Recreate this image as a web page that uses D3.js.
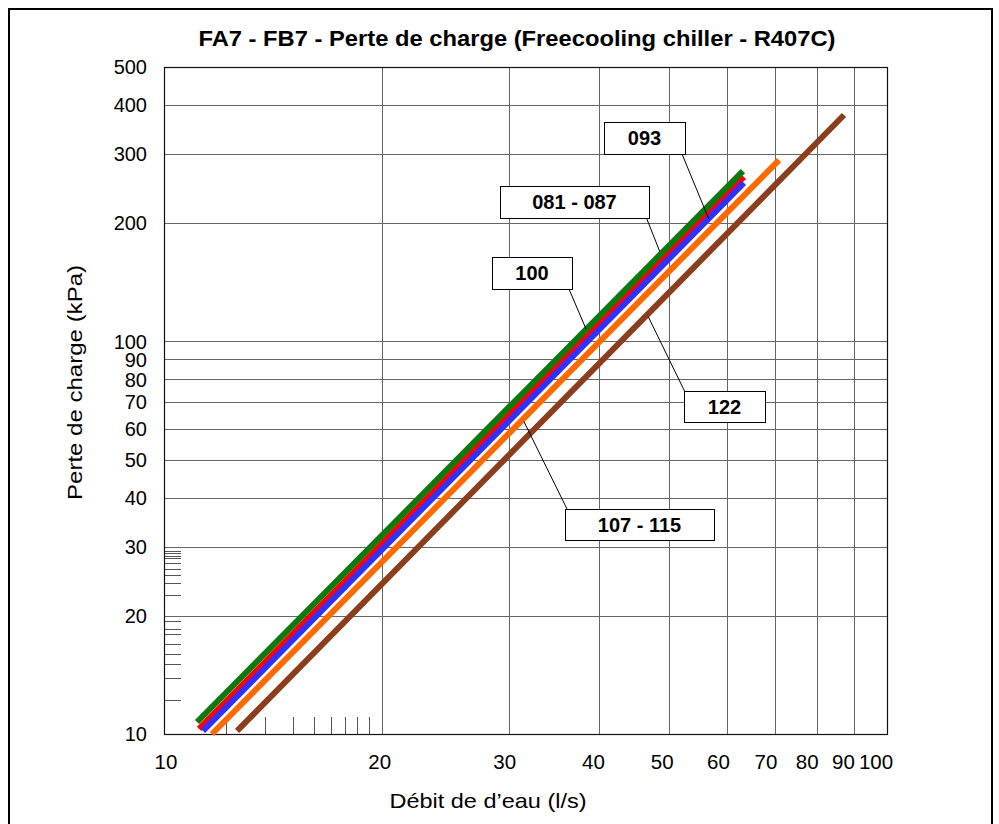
<!DOCTYPE html>
<html><head><meta charset="utf-8">
<script src="https://cdnjs.cloudflare.com/ajax/libs/d3/7.8.5/d3.min.js"></script>
<style>body{margin:0;background:#fff;} svg{display:block;font-family:Arial,"Liberation Sans",sans-serif;}</style>
</head><body><svg id="c" width="999" height="824"></svg>
<script>
// ---- data ----
const chartTitle = "FA7 - FB7 - Perte de charge (Freecooling chiller - R407C)";
const xTitle = "Débit de d’eau (l/s)";
const yTitle = "Perte de charge (kPa)";
const xTickValues = [10, 20, 30, 40, 50, 60, 70, 80, 90, 100];
const yTickValues = [10, 20, 30, 40, 50, 60, 70, 80, 90, 100, 200, 300, 400, 500];
const xGridValues = [20, 30, 40, 50, 60, 70, 80, 90];
const yGridValues = [20, 30, 40, 50, 60, 70, 80, 90, 100, 200, 300, 400];
const xMinorTicks = [12.2, 13.8, 15.1, 16.1, 17.0, 17.8, 18.5, 19.2];
const yMinorTicks = [12.2, 13.9, 15.05, 16.0, 17.0, 18.0, 18.55, 19.45, 22.6, 24.3, 25.4, 26.3, 27.3, 28.0, 28.4, 28.9, 29.3];
// each line: [flow l/s, kPa] end points
const lineBrown  = [[12.62, 10.18], [87.2, 377.3]];
const lineOrange = [[11.65, 10.0],  [70.9, 289.7]];
const lineRed    = [[11.18, 10.30], [63.4, 262.3]];
const lineBlue   = [[11.32, 10.18], [63.4, 253.3]];
const lineGreen  = [[11.11, 10.73], [63.2, 271.6]];
const labelTexts   = ["093", "081 - 087", "100", "122", "107 - 115"];
const labelTargets = [[56.7, 205.0], [48.5, 169.3], [38.35, 107.5], [46.75, 115.6], [31.47, 62.45]];

// ---- layout ----
const svg = d3.select("#c");
const L = 164, R = 887, T = 67, B = 734;
const x = d3.scaleLog().domain([10, 100]).range([L, R]);
const xLab = d3.scaleLog().domain([10, 100]).range([166, 876]);
const y = d3.scaleLog().domain([10, 500]).range([B, T]);

svg.append("rect").attr("x", 9).attr("y", 9).attr("width", 983).attr("height", 840)
  .attr("fill", "#fff").attr("stroke", "#000").attr("stroke-width", 2);

// gridlines
svg.append("g").selectAll("line").data(xGridValues).join("line")
  .attr("x1", d => Math.round(x(d)) + 0.5).attr("x2", d => Math.round(x(d)) + 0.5)
  .attr("y1", T).attr("y2", B).attr("stroke", "#666").attr("stroke-width", 1);
svg.append("g").selectAll("line").data(yGridValues).join("line")
  .attr("y1", d => Math.round(y(d)) + 0.5).attr("y2", d => Math.round(y(d)) + 0.5)
  .attr("x1", L).attr("x2", R).attr("stroke", "#666").attr("stroke-width", 1);

// minor ticks
svg.append("g").selectAll("line").data(xMinorTicks).join("line")
  .attr("x1", d => Math.round(x(d)) + 0.5).attr("x2", d => Math.round(x(d)) + 0.5)
  .attr("y1", B).attr("y2", B - 17).attr("stroke", "#555");
svg.append("g").selectAll("line").data(yMinorTicks).join("line")
  .attr("y1", d => Math.round(y(d)) + 0.5).attr("y2", d => Math.round(y(d)) + 0.5)
  .attr("x1", L).attr("x2", L + 17).attr("stroke", "#555");

// frame
svg.append("rect").attr("x", L + 0.5).attr("y", T + 0.5).attr("width", R - L).attr("height", B - T)
  .attr("fill", "none").attr("stroke", "#111").attr("stroke-width", 1.2);

// series lines
const lineGen = d3.line().x(d => x(d[0])).y(d => y(d[1]));
const series = [
  {pts: lineBrown, color: "#8b3d1c"},
  {pts: lineOrange, color: "#ff6a00"},
  {pts: lineRed, color: "#ff0000"},
  {pts: lineBlue, color: "#3030ff"},
  {pts: lineGreen, color: "#0e7a0e"}
];
svg.append("g").selectAll("path").data(series).join("path")
  .attr("d", d => lineGen(d.pts)).attr("fill", "none")
  .attr("stroke", d => d.color).attr("stroke-width", 6).attr("stroke-linecap", "butt");

// tick labels
svg.append("g").selectAll("text").data(yTickValues).join("text")
  .attr("x", 147).attr("y", d => y(d)).attr("dy", "0.36em").attr("text-anchor", "end")
  .attr("font-size", 20).text(d => d);
svg.append("g").selectAll("text").data(xTickValues).join("text")
  .attr("x", d => xLab(d)).attr("y", 769).attr("text-anchor", "middle")
  .attr("font-size", 20.5).text(d => d);

// titles
svg.append("text").attr("x", 517).attr("y", 46).attr("text-anchor", "middle")
  .attr("font-size", 22).attr("font-weight", "bold")
  .attr("textLength", 637).attr("lengthAdjust", "spacingAndGlyphs").text(chartTitle);
svg.append("text").attr("x", 488).attr("y", 808).attr("text-anchor", "middle")
  .attr("font-size", 21).attr("textLength", 197).attr("lengthAdjust", "spacingAndGlyphs").text(xTitle);
svg.append("text").attr("transform", "translate(81.5,382.5) rotate(-90)").attr("text-anchor", "middle")
  .attr("font-size", 21).attr("textLength", 235).attr("lengthAdjust", "spacingAndGlyphs").text(yTitle);

// callout labels
const boxes = [
  {x: 604, y: 122, w: 81, h: 32, sx: 682, sy: 154},
  {x: 500, y: 186, w: 149, h: 32, sx: 646.5, sy: 218},
  {x: 492, y: 257, w: 80, h: 32, sx: 569, sy: 289},
  {x: 684, y: 391, w: 81, h: 31, sx: 684.5, sy: 391},
  {x: 565, y: 509, w: 149, h: 31, sx: 567, sy: 509}
];
const g = svg.append("g");
boxes.forEach((b, i) => {
  const t = labelTargets[i];
  g.append("line").attr("x1", b.sx).attr("y1", b.sy).attr("x2", x(t[0])).attr("y2", y(t[1]))
    .attr("stroke", "#000").attr("stroke-width", 1);
});
boxes.forEach((b, i) => {
  g.append("rect").attr("x", b.x + 0.5).attr("y", b.y + 0.5).attr("width", b.w).attr("height", b.h)
    .attr("fill", "#fff").attr("stroke", "#000").attr("stroke-width", 1);
  g.append("text").attr("x", b.x + b.w / 2).attr("y", b.y + b.h / 2).attr("dy", "0.36em")
    .attr("text-anchor", "middle").attr("font-size", 20).attr("font-weight", "bold").text(labelTexts[i]);
});
</script></body></html>
